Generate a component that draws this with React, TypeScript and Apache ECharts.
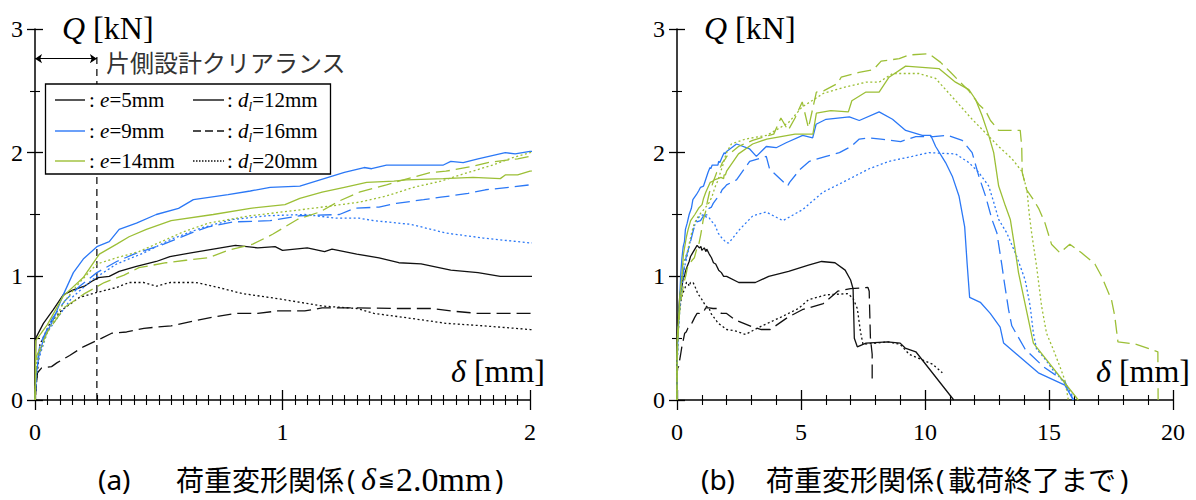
import React, { useEffect, useRef } from "react";
import * as echarts from "echarts";

const SERIF = "'Liberation Serif', 'Times New Roman', serif";
const SANS = "'Noto Sans', 'Liberation Sans', sans-serif";
const CJK = "'Noto Sans CJK JP', sans-serif";

const BLACK = "#111111";
const BLUE = "#2b78f6";
const GREEN = "#9cbf36";

// [delta (mm), Q (kN)]  e = 5 mm
const e5_d12 = [
  [0, 0], [0.003, 0.5], [0.034, 0.62], [0.074, 0.73], [0.114, 0.85], [0.155, 0.89], [0.2, 0.92], [0.23, 0.96],
  [0.256, 0.99], [0.3, 1.0], [0.34, 1.04], [0.41, 1.08], [0.49, 1.12], [0.545, 1.16], [0.63, 1.19], [0.72, 1.22],
  [0.81, 1.25], [0.9, 1.23], [0.97, 1.24], [1.0, 1.21], [1.1, 1.23], [1.17, 1.2], [1.2, 1.22], [1.3, 1.18],
  [1.39, 1.15], [1.47, 1.11], [1.56, 1.1], [1.68, 1.05], [1.79, 1.03], [1.88, 1.0], [2.0, 1.0],
  [2.49, 0.95], [3.16, 0.95], [3.7, 1.0], [4.5, 1.04], [5.3, 1.09], [5.83, 1.12], [6.37, 1.11], [6.78, 1.05],
  [7.0, 0.97], [7.1, 0.9], [7.15, 0.5], [7.27, 0.43], [7.62, 0.46], [8.48, 0.47], [9.0, 0.46], [9.2, 0.42],
  [9.63, 0.39], [11.16, 0],
];
const e5_d16 = [
  [0, 0], [0.01, 0.22], [0.027, 0.26], [0.067, 0.27], [0.088, 0.3], [0.14, 0.36], [0.195, 0.43], [0.27, 0.5],
  [0.31, 0.54], [0.37, 0.55], [0.44, 0.58], [0.55, 0.6], [0.62, 0.63], [0.72, 0.67], [0.81, 0.7], [0.9, 0.7],
  [0.98, 0.72], [1.09, 0.72], [1.16, 0.745], [1.3, 0.745], [1.45, 0.74], [1.6, 0.74], [1.68, 0.72], [1.79, 0.7],
  [2.0, 0.7],
  [2.33, 0.65], [3.05, 0.59], [3.4, 0.57], [3.76, 0.57], [4.48, 0.67], [5.05, 0.73], [5.9, 0.78], [6.48, 0.88],
  [7.0, 0.9], [7.7, 0.91], [7.75, 0.88], [7.77, 0.72], [7.8, 0.5], [7.87, 0.37], [7.87, 0.16],
];
const e5_d20 = [
  [0, 0], [0.02, 0.45], [0.06, 0.62], [0.11, 0.73], [0.18, 0.83], [0.25, 0.87], [0.33, 0.91], [0.38, 0.95],
  [0.44, 0.95], [0.49, 0.92], [0.545, 0.95], [0.65, 0.95], [0.72, 0.92], [0.84, 0.86], [0.98, 0.82], [1.16, 0.76],
  [1.3, 0.74], [1.37, 0.7], [1.52, 0.66], [1.66, 0.62], [1.81, 0.6], [2.0, 0.57],
  [2.33, 0.56], [2.76, 0.53], [3.33, 0.59], [4.19, 0.67], [4.9, 0.74], [5.3, 0.81], [6.0, 0.85], [6.9, 0.86],
  [7.1, 0.82], [7.27, 0.74], [7.4, 0.55], [7.5, 0.45], [8.5, 0.47], [9.0, 0.45], [9.36, 0.37], [10.3, 0.29],
  [10.7, 0.22],
];
// e = 9 mm
const e9_d12 = [
  [0, 0], [0.005, 0.2], [0.015, 0.35], [0.034, 0.49], [0.074, 0.65], [0.114, 0.85], [0.155, 1.03], [0.195, 1.14],
  [0.25, 1.24], [0.3, 1.28], [0.34, 1.38], [0.41, 1.43], [0.49, 1.5], [0.58, 1.55], [0.64, 1.62], [0.78, 1.66],
  [0.87, 1.69], [0.95, 1.72], [1.07, 1.73], [1.25, 1.84], [1.33, 1.88], [1.36, 1.87], [1.42, 1.9], [1.65, 1.9],
  [1.68, 1.93], [1.73, 1.92], [1.79, 1.95], [1.9, 2.0], [1.94, 1.99], [2.0, 2.01],
  [2.4, 2.07], [2.93, 2.03], [3.2, 1.97], [3.6, 2.05], [4.0, 2.04], [4.4, 2.08], [5.07, 2.14], [5.47, 2.12],
  [5.61, 2.23], [6.01, 2.27], [6.95, 2.29], [7.35, 2.26], [8.15, 2.33], [8.69, 2.27], [9.22, 2.18], [9.89, 2.14],
  [10.23, 2.14], [10.43, 2.05], [10.83, 1.92], [11.1, 1.81], [11.37, 1.65], [11.6, 1.4], [11.7, 1.1], [11.8, 0.83],
  [12.23, 0.79], [12.63, 0.7], [13.03, 0.59], [13.17, 0.46], [14.57, 0.22], [15.64, 0.12], [15.98, 0],
];
const e9_d16 = [
  [0, 0], [0.005, 0.25], [0.02, 0.45], [0.07, 0.66], [0.12, 0.8], [0.18, 0.92], [0.25, 1.03], [0.33, 1.12],
  [0.4, 1.18], [0.52, 1.26], [0.63, 1.35], [0.7, 1.4], [0.8, 1.44], [0.95, 1.45], [1.07, 1.49], [1.23, 1.5],
  [1.29, 1.55], [1.39, 1.56], [1.46, 1.59], [1.57, 1.62], [1.64, 1.64], [1.75, 1.67], [1.82, 1.7], [1.92, 1.72],
  [2.0, 1.74],
  [2.4, 1.78], [2.93, 1.93], [3.6, 1.97], [3.73, 1.87], [4.46, 1.73], [4.54, 1.76], [4.94, 1.86], [5.34, 1.93],
  [6.01, 1.97], [6.55, 2.0], [7.02, 2.05], [7.35, 2.11], [7.75, 2.12], [8.22, 2.11], [9.02, 2.09], [9.63, 2.13],
  [10.34, 2.13], [10.9, 2.14], [11.5, 2.1], [11.9, 2.0], [12.17, 1.81], [12.44, 1.65], [12.7, 1.46], [12.9, 1.35],
  [13.1, 1.09], [13.2, 0.95], [13.37, 0.73], [13.5, 0.6], [14.04, 0.41], [14.77, 0.27], [15.64, 0.15], [15.98, 0],
];
const e9_d20 = [
  [0, 0], [0.01, 0.3], [0.05, 0.55], [0.15, 0.83], [0.23, 0.97], [0.33, 1.1], [0.44, 1.19], [0.55, 1.3],
  [0.67, 1.39], [0.8, 1.46], [0.94, 1.49], [1.09, 1.5], [1.22, 1.47], [1.31, 1.47], [1.37, 1.45], [1.52, 1.42],
  [1.66, 1.35], [1.81, 1.31], [2.0, 1.27],
  [2.09, 1.27], [2.53, 1.38], [3.06, 1.49], [3.6, 1.52], [4.27, 1.45], [5.07, 1.54], [5.88, 1.68], [6.68, 1.76],
  [7.75, 1.87], [8.55, 1.93], [9.49, 1.97], [10.16, 2.0], [11.23, 1.99], [11.77, 1.92], [12.17, 1.84], [12.57, 1.73],
  [12.77, 1.6], [12.97, 1.46], [13.3, 1.35], [13.7, 1.16], [14.04, 0.97], [14.24, 0.76], [14.37, 0.54], [14.5, 0.41],
  [14.77, 0.35], [15.17, 0.24], [15.58, 0.15], [15.91, 0.05], [15.98, 0],
];
// e = 14 mm
const e14_d12 = [
  [0, 0], [0.003, 0.48], [0.05, 0.61], [0.114, 0.84], [0.195, 0.99], [0.26, 1.18], [0.33, 1.26], [0.38, 1.32],
  [0.45, 1.38], [0.55, 1.45], [0.72, 1.5], [0.87, 1.55], [1.01, 1.58], [1.07, 1.63], [1.16, 1.68], [1.25, 1.72],
  [1.34, 1.76], [1.45, 1.77], [1.5, 1.78], [1.65, 1.79], [1.77, 1.8], [1.88, 1.79], [1.9, 1.82], [1.95, 1.82],
  [2.0, 1.85],
  [2.48, 1.99], [3.05, 2.07], [3.62, 2.11], [4.19, 2.13], [4.76, 2.15], [5.48, 2.15], [5.62, 2.32], [6.2, 2.34],
  [6.91, 2.33], [7.05, 2.42], [7.62, 2.49], [8.15, 2.49], [8.55, 2.61], [9.22, 2.7], [9.89, 2.69], [10.56, 2.68],
  [11.23, 2.57], [11.77, 2.51], [12.04, 2.43], [12.3, 2.3], [12.57, 2.14], [12.77, 2.0], [12.97, 1.73], [13.24, 1.57],
  [13.44, 1.46], [13.63, 1.22], [13.77, 1.03], [13.97, 0.84], [14.17, 0.65], [14.37, 0.46], [16.18, 0],
];
const e14_d16 = [
  [0, 0], [0.005, 0.35], [0.05, 0.55], [0.12, 0.75], [0.2, 0.86], [0.28, 0.95], [0.36, 1.01], [0.42, 1.07],
  [0.53, 1.11], [0.61, 1.13], [0.7, 1.15], [0.78, 1.21], [0.88, 1.26], [0.96, 1.34], [1.06, 1.46], [1.15, 1.52],
  [1.23, 1.61], [1.31, 1.68], [1.42, 1.74], [1.47, 1.77], [1.6, 1.84], [1.66, 1.85], [1.77, 1.89], [1.83, 1.92],
  [1.95, 1.95], [2.0, 1.97],
  [2.48, 2.05], [3.05, 2.1], [3.9, 2.15], [4.19, 2.28], [4.48, 2.18], [4.76, 2.28], [5.05, 2.41], [5.3, 2.2],
  [5.62, 2.49], [5.91, 2.5], [6.48, 2.56], [6.62, 2.61], [7.34, 2.65], [7.91, 2.67], [8.23, 2.74], [8.96, 2.76],
  [9.36, 2.79], [10.16, 2.8], [10.63, 2.73], [11.03, 2.65], [11.37, 2.58], [11.77, 2.5], [12.17, 2.39], [12.44, 2.34],
  [12.64, 2.26], [12.97, 2.18], [13.84, 2.18], [13.9, 2.05], [13.92, 1.84], [14.1, 1.7], [14.37, 1.62], [14.58, 1.55],
  [14.84, 1.43], [15.1, 1.26], [15.44, 1.19], [15.84, 1.26], [16.31, 1.19], [16.85, 1.1], [17.12, 1.0], [17.52, 0.81],
  [17.65, 0.68], [17.78, 0.47], [18.52, 0.45], [19.39, 0.39], [19.4, 0],
];
const e14_d20 = [
  [0, 0], [0.005, 0.3], [0.05, 0.55], [0.12, 0.8], [0.18, 0.95], [0.25, 1.1], [0.33, 1.15], [0.42, 1.2],
  [0.51, 1.28], [0.6, 1.36], [0.7, 1.43], [0.87, 1.49], [1.04, 1.53], [1.2, 1.57], [1.31, 1.6], [1.42, 1.65],
  [1.53, 1.72], [1.64, 1.77], [1.75, 1.84], [1.85, 1.9], [1.93, 1.96], [2.0, 2.0],
  [2.19, 2.07], [2.76, 2.11], [3.62, 2.14], [4.48, 2.24], [5.05, 2.37], [5.91, 2.48], [6.77, 2.53], [7.62, 2.57],
  [8.15, 2.57], [8.69, 2.64], [9.76, 2.64], [10.43, 2.6], [10.83, 2.51], [11.37, 2.39], [11.9, 2.27], [12.44, 2.16],
  [12.97, 2.05], [13.51, 1.95], [13.9, 1.85], [14.11, 1.7], [14.2, 1.51], [14.3, 1.35], [14.5, 1.08], [14.7, 0.76],
  [14.9, 0.54], [15.17, 0.41], [15.44, 0.27], [15.64, 0.16], [15.78, 0],
];

// clearance marker (one-sided design clearance) in delta mm
const clearance = 0.25;
const clearanceTop = 2.8;
const arrowQ = 2.76;

const eLabels = ["5", "9", "14"];
const dlLabels = ["12", "16", "20"];
const eColors = [BLACK, BLUE, GREEN];
const DASHES: any[] = ["solid", [14, 6], [2, 2.5]];
const LEGEND_DASHES: any[] = [null, [8, 4], [1.5, 1.5]];

const curves = [
  { e: 0, d: 0, data: e5_d12 },
  { e: 0, d: 1, data: e5_d16 },
  { e: 0, d: 2, data: e5_d20 },
  { e: 1, d: 0, data: e9_d12 },
  { e: 1, d: 1, data: e9_d16 },
  { e: 1, d: 2, data: e9_d20 },
  { e: 2, d: 0, data: e14_d12 },
  { e: 2, d: 1, data: e14_d16 },
  { e: 2, d: 2, data: e14_d20 },
];

function makeX(gridIndex: number, max: number, interval: number, split: number, inside: boolean) {
  return {
    type: "value", gridIndex, min: 0, max, interval, position: "bottom",
    axisLine: { show: !inside, onZero: false, lineStyle: { color: "#000", width: 1.5 } },
    axisTick: { show: true, inside, length: 10, lineStyle: { color: "#000", width: 1.3 } },
    minorTick: { show: true, splitNumber: split, length: 5, lineStyle: { color: "#000", width: 1.1 } },
    axisLabel: { show: !inside, margin: 20, fontSize: 24, fontFamily: SERIF, color: "#000" },
    splitLine: { show: false }, minorSplitLine: { show: false },
  };
}
function makeY(gridIndex: number, inside: boolean) {
  return {
    type: "value", gridIndex, min: 0, max: 3, interval: 1, position: "left",
    axisLine: { show: !inside, onZero: false, lineStyle: { color: "#000", width: 1.5 } },
    axisTick: { show: true, inside, length: 8, lineStyle: { color: "#000", width: 1.3 } },
    minorTick: { show: true, splitNumber: 2, length: 5, lineStyle: { color: "#000", width: 1.1 } },
    axisLabel: { show: !inside, margin: 12, fontSize: 24, fontFamily: SERIF, color: "#000" },
    splitLine: { show: false }, minorSplitLine: { show: false },
  };
}

function txt(x: number, y: number, text: string, rich: any, extra: any = {}, align = "left") {
  return {
    type: "text", x, y, z: 100,
    style: { text, rich, fill: "#000", align, verticalAlign: "middle", textAlign: align, textVerticalAlign: "middle" },
    ...extra,
  };
}
function plain(x: number, y: number, text: string, font: string, fill = "#000") {
  return {
    type: "text", x, y, z: 100,
    style: { text, font, fill, align: "left", verticalAlign: "middle", textAlign: "left", textVerticalAlign: "middle" },
  };
}

const axisNameRich = {
  i: { fontFamily: SERIF, fontStyle: "italic", fontSize: 32, fill: "#000" },
  u: { fontFamily: SERIF, fontSize: 32, fill: "#000" },
};
const legRich = {
  n: { fontFamily: SERIF, fontSize: 21, fill: "#000", lineHeight: 26 },
  i: { fontFamily: SERIF, fontStyle: "italic", fontSize: 21, fill: "#000", lineHeight: 26 },
  s: { fontFamily: SERIF, fontStyle: "italic", fontSize: 13, fill: "#000", lineHeight: 13, verticalAlign: "bottom" },
};

function buildGraphic() {
  const g: any[] = [];
  // axis names
  g.push(txt(62, 28, "{i|Q}{u| [kN]}", axisNameRich));
  g.push(txt(704, 28, "{i|Q}{u| [kN]}", axisNameRich));
  g.push(txt(545, 371, "{i|δ}{u| [mm]}", axisNameRich, {}, "right"));
  g.push(txt(1190, 371, "{i|δ}{u| [mm]}", axisNameRich, {}, "right"));
  // annotation text
  g.push(plain(106, 61, "片側設計クリアランス", `24px ${CJK}`, "#333"));
  // legend box
  g.push({ type: "rect", z: 100, shape: { x: 45.5, y: 84, width: 285, height: 90 }, style: { fill: "#fff", stroke: "#000", lineWidth: 1.3 } });
  const rows = [100, 131, 161];
  rows.forEach((y, k) => {
    g.push({ type: "line", z: 101, shape: { x1: 55, y1: y, x2: 85, y2: y }, style: { stroke: eColors[k], lineWidth: 1.4 } });
    g.push(txt(89, y, `{n|: }{i|e}{n|=${eLabels[k]}mm}`, legRich, { z: 101 }));
    const dash = LEGEND_DASHES[k];
    g.push({ type: "line", z: 101, shape: { x1: 193, y1: y, x2: 224, y2: y }, style: { stroke: BLACK, lineWidth: 1.4, lineDash: dash || undefined } });
    g.push(txt(227, y, `{n|: }{i|d}{s|l}{n|=${dlLabels[k]}mm}`, legRich, { z: 101 }));
  });
  // captions
  const cy = 479;
  g.push(plain(98, cy, "(a)", `28px ${SANS}`));
  g.push(plain(176, cy, "荷重変形関係", `28px ${CJK}`));
  g.push(plain(347, cy, "(", `28px ${SANS}`));
  g.push(plain(361, cy, "δ", `italic 32px ${SERIF}`));
  g.push(plain(378, cy, "≦", `20px 'DejaVu Sans', ${CJK}`));
  g.push(plain(396, cy, "2.0mm", `34px ${SERIF}`));
  g.push(plain(495, cy, ")", `28px ${SANS}`));

  g.push(plain(701, cy, "(b)", `28px ${SANS}`));
  g.push(plain(766, cy, "荷重変形関係", `28px ${CJK}`));
  g.push(plain(936, cy, "(", `28px ${SANS}`));
  g.push(plain(948, cy, "載荷終了まで", `28px ${CJK}`));
  g.push(plain(1120, cy, ")", `28px ${SANS}`));
  return g;
}

function buildSeries() {
  const s: any[] = [];
  [0, 2].forEach((axisIdx) => {
    curves.forEach((c) => {
      s.push({
        type: "line", xAxisIndex: axisIdx, yAxisIndex: axisIdx, data: c.data,
        showSymbol: false, symbol: "none", smooth: false, clip: true,
        lineStyle: { color: eColors[c.e], width: 1.3, type: DASHES[c.d] },
        z: 3,
      });
    });
  });
  s.push({
    type: "line", xAxisIndex: 0, yAxisIndex: 0, showSymbol: false, symbol: "none",
    data: [[clearance, 0], [clearance, clearanceTop]],
    lineStyle: { color: "#000", width: 1.2, type: [7, 5] }, z: 2,
  });
  s.push({
    type: "lines", coordinateSystem: "cartesian2d", xAxisIndex: 0, yAxisIndex: 0,
    symbol: ["arrow", "arrow"], symbolSize: 7,
    data: [{ coords: [[0, arrowQ], [clearance, arrowQ]] }],
    lineStyle: { color: "#000", width: 1, curveness: 0, opacity: 1 }, z: 3,
  });
  return s;
}

export default function App() {
  const ref = useRef<HTMLDivElement>(null);
  useEffect(() => {
    if (!ref.current) return;
    const chart = echarts.init(ref.current, undefined, { renderer: "svg" });
    chart.setOption({
      animation: false,
      backgroundColor: "#fff",
      grid: [
        { left: 35, top: 29, width: 495, height: 371 },
        { left: 677, top: 29, width: 496, height: 371 },
      ],
      xAxis: [makeX(0, 2, 1, 20, false), makeX(0, 2, 1, 20, true), makeX(1, 20, 5, 5, false), makeX(1, 20, 5, 5, true)],
      yAxis: [makeY(0, false), makeY(0, true), makeY(1, false), makeY(1, true)],
      series: buildSeries(),
      graphic: buildGraphic(),
    });
    return () => chart.dispose();
  }, []);
  return <div ref={ref} style={{ position: "fixed", left: 0, top: 0, width: 1196, height: 500, background: "#fff" }} />;
}
